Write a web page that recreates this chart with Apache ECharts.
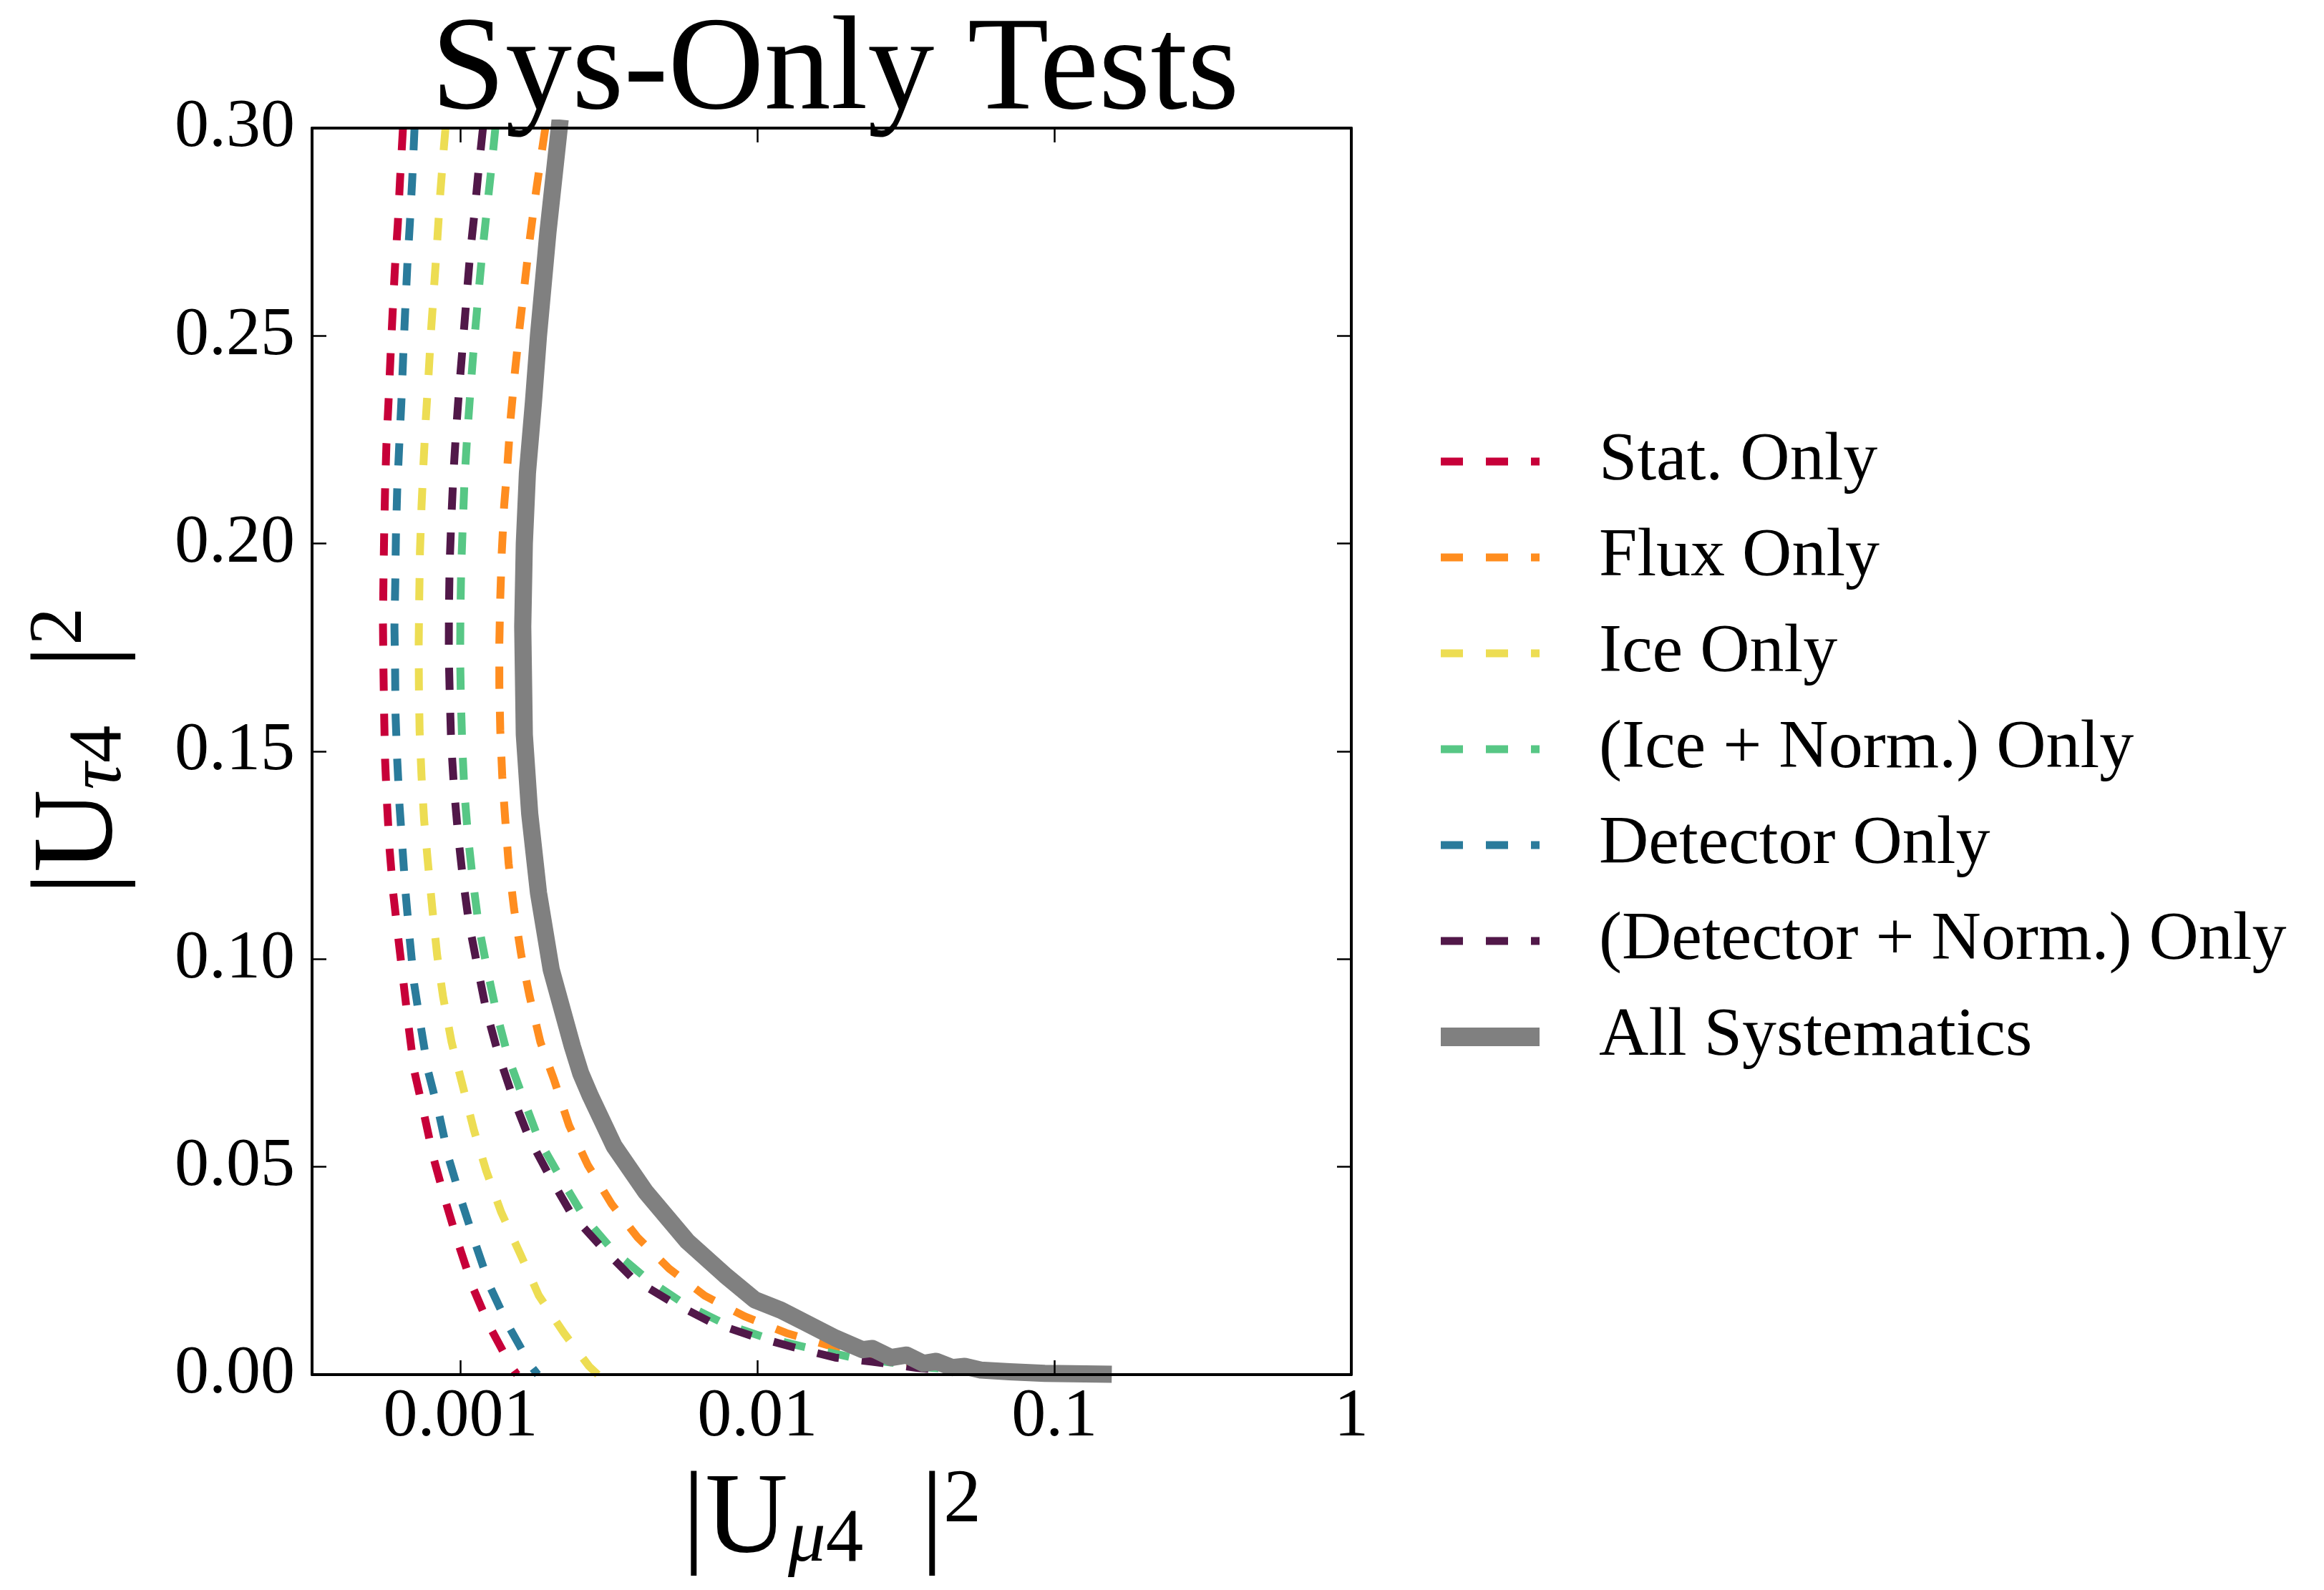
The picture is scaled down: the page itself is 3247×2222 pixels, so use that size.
<!DOCTYPE html>
<html>
<head>
<meta charset="utf-8">
<title>Sys-Only Tests</title>
<script src="https://cdn.jsdelivr.net/npm/echarts@6/dist/echarts.min.js"></script>
<style>
  html, body { margin: 0; padding: 0; background: #fff; }
  #sys-only-graph { width: 3247px; height: 2222px; }
</style>
</head>
<body>
<div id="sys-only-graph"></div>
<script>
/* Contours: [ |U_mu4|^2 , |U_tau4|^2 ] */
var stat_only = [
    [6.40e-4, 0.300], [6.26e-4, 0.288], [6.15e-4, 0.277], [6.02e-4, 0.267], [5.91e-4, 0.256],
    [5.81e-4, 0.245], [5.72e-4, 0.234], [5.63e-4, 0.224], [5.57e-4, 0.213], [5.53e-4, 0.202],
    [5.50e-4, 0.191], [5.48e-4, 0.181], [5.50e-4, 0.170], [5.53e-4, 0.159], [5.57e-4, 0.148],
    [5.65e-4, 0.138], [5.76e-4, 0.127], [5.93e-4, 0.116], [6.15e-4, 0.106], [6.41e-4, 0.095],
    [6.68e-4, 0.084], [6.99e-4, 0.073], [7.52e-4, 0.063], [8.12e-4, 0.052], [8.88e-4, 0.042],
    [9.78e-4, 0.032], [1.10e-3, 0.021], [1.245e-3, 0.012], [1.48e-3, 0.002], [1.55e-3, 0.0]
];
var flux_only = [
    [1.93e-3, 0.300], [1.875e-3, 0.294], [1.79e-3, 0.284], [1.709e-3, 0.273], [1.641e-3, 0.262],
    [1.581e-3, 0.252], [1.523e-3, 0.241], [1.474e-3, 0.230], [1.439e-3, 0.219], [1.402e-3, 0.209],
    [1.377e-3, 0.198], [1.361e-3, 0.187], [1.351e-3, 0.176], [1.351e-3, 0.166], [1.361e-3, 0.155],
    [1.382e-3, 0.144], [1.413e-3, 0.134], [1.452e-3, 0.123], [1.515e-3, 0.112], [1.601e-3, 0.101],
    [1.709e-3, 0.091], [1.858e-3, 0.080], [2.064e-3, 0.071], [2.319e-3, 0.060], [2.68e-3, 0.0505],
    [3.23e-3, 0.041], [3.95e-3, 0.033], [5.04e-3, 0.0255], [6.64e-3, 0.019], [9.06e-3, 0.014],
    [1.252e-2, 0.010], [1.72e-2, 0.0071], [2.35e-2, 0.0048], [3.09e-2, 0.0031], [4.56e-2, 0.0014],
    [8.0e-2, 0.0005], [0.13, 0.0002]
];
var ice_only = [
    [8.90e-4, 0.300], [8.78e-4, 0.295], [8.54e-4, 0.284], [8.35e-4, 0.273], [8.15e-4, 0.262],
    [7.97e-4, 0.252], [7.81e-4, 0.241], [7.64e-4, 0.230], [7.50e-4, 0.219], [7.39e-4, 0.209],
    [7.30e-4, 0.198], [7.26e-4, 0.187], [7.23e-4, 0.176], [7.24e-4, 0.166], [7.28e-4, 0.155],
    [7.39e-4, 0.144], [7.54e-4, 0.1335], [7.77e-4, 0.123], [8.04e-4, 0.112], [8.34e-4, 0.101],
    [8.73e-4, 0.091], [9.33e-4, 0.080], [1.013e-3, 0.070], [1.108e-3, 0.059], [1.221e-3, 0.049],
    [1.372e-3, 0.039], [1.59e-3, 0.029], [1.836e-3, 0.019], [2.23e-3, 0.010], [2.71e-3, 0.002],
    [2.90e-3, 0.0]
];
var ice_norm_only = [
    [1.31e-3, 0.300], [1.271e-3, 0.2905], [1.225e-3, 0.280], [1.18e-3, 0.269], [1.142e-3, 0.258],
    [1.11e-3, 0.248], [1.08e-3, 0.237], [1.053e-3, 0.226], [1.031e-3, 0.215], [1.018e-3, 0.205],
    [1.005e-3, 0.194], [9.99e-4, 0.183], [9.97e-4, 0.1725], [1.003e-3, 0.162], [1.014e-3, 0.151],
    [1.031e-3, 0.140], [1.06e-3, 0.1295], [1.10e-3, 0.119], [1.152e-3, 0.108], [1.23e-3, 0.0975],
    [1.323e-3, 0.087], [1.446e-3, 0.0765], [1.616e-3, 0.067], [1.836e-3, 0.0565], [2.146e-3, 0.048],
    [2.605e-3, 0.038], [3.25e-3, 0.030], [4.25e-3, 0.023], [5.67e-3, 0.017], [7.76e-3, 0.0122],
    [1.073e-2, 0.0088], [1.472e-2, 0.0065], [2.09e-2, 0.0041], [3.90e-2, 0.0016], [7.0e-2, 0.0004],
    [0.11, 0.0002]
];
var detector_only = [
    [7.00e-4, 0.300], [6.88e-4, 0.288], [6.75e-4, 0.277], [6.62e-4, 0.267], [6.51e-4, 0.256],
    [6.41e-4, 0.245], [6.32e-4, 0.234], [6.22e-4, 0.224], [6.12e-4, 0.213], [6.06e-4, 0.202],
    [6.03e-4, 0.191], [5.99e-4, 0.180], [6.02e-4, 0.170], [6.04e-4, 0.159], [6.12e-4, 0.148],
    [6.23e-4, 0.137], [6.37e-4, 0.127], [6.53e-4, 0.116], [6.74e-4, 0.105], [6.98e-4, 0.094],
    [7.34e-4, 0.084], [7.78e-4, 0.073], [8.45e-4, 0.063], [9.13e-4, 0.052], [1.005e-3, 0.042],
    [1.116e-3, 0.032], [1.26e-3, 0.021], [1.443e-3, 0.012], [1.73e-3, 0.002], [1.82e-3, 0.0]
];
var detector_norm_only = [
    [1.19e-3, 0.300], [1.154e-3, 0.291], [1.116e-3, 0.280], [1.078e-3, 0.270], [1.047e-3, 0.259],
    [1.018e-3, 0.248], [9.90e-4, 0.2375], [9.66e-4, 0.227], [9.45e-4, 0.216], [9.30e-4, 0.205],
    [9.19e-4, 0.195], [9.14e-4, 0.184], [9.13e-4, 0.173], [9.21e-4, 0.162], [9.30e-4, 0.152],
    [9.51e-4, 0.141], [9.81e-4, 0.130], [1.018e-3, 0.1195], [1.066e-3, 0.109], [1.138e-3, 0.0985],
    [1.218e-3, 0.088], [1.336e-3, 0.0775], [1.496e-3, 0.067], [1.70e-3, 0.057], [1.986e-3, 0.048],
    [2.366e-3, 0.0386], [2.99e-3, 0.0306], [3.82e-3, 0.023], [5.16e-3, 0.0174], [6.98e-3, 0.0126],
    [9.60e-3, 0.0093], [1.337e-2, 0.0065], [1.827e-2, 0.0041], [2.44e-2, 0.0031], [3.47e-2, 0.0016],
    [4.92e-2, 0.0007], [0.10, 0.0002]
];
var all_systematics = [
    [2.15e-3, 0.300], [1.97e-3, 0.275], [1.83e-3, 0.250], [1.76e-3, 0.234], [1.68e-3, 0.217],
    [1.64e-3, 0.200], [1.62e-3, 0.180], [1.64e-3, 0.154], [1.71e-3, 0.135], [1.83e-3, 0.116],
    [2.02e-3, 0.0975], [2.38e-3, 0.079], [2.54e-3, 0.0725], [2.74e-3, 0.067], [3.29e-3, 0.055],
    [4.20e-3, 0.044], [5.82e-3, 0.032], [7.76e-3, 0.024], [9.8e-3, 0.018], [1.20e-2, 0.0155],
    [1.45e-2, 0.0125], [1.83e-2, 0.0088], [2.26e-2, 0.0060], [2.44e-2, 0.0063], [2.82e-2, 0.0041],
    [3.18e-2, 0.0047], [3.62e-2, 0.0027], [4.00e-2, 0.0032], [4.53e-2, 0.0017], [4.99e-2, 0.0020],
    [5.65e-2, 0.0011], [7.06e-2, 0.0007], [9.28e-2, 0.0003], [0.146, 0.0001]
];

var series_names = [
    'Stat. Only', 'Flux Only', 'Ice Only', '(Ice + Norm.) Only',
    'Detector Only', '(Detector + Norm.) Only', 'All Systematics'
];
var series_colors = ['#c70039', '#ff8d1f', '#eddd53', '#57c785', '#2a7b9b', '#511849', '#808080'];

var x_tick_values = [0.001, 0.01, 0.1, 1];
var x_tick_labels = ['0.001', '0.01', '0.1', '1'];
var x_min = Math.pow(10, -3.5);
var x_max = 1;
var y_min = 0;
var y_max = 0.3;
var y_step = 0.05;

var font_family = '"Liberation Serif", "DejaVu Serif", serif';
var dash_width = 11;
var solid_width = 24;

var echarts_sys_only_graph = echarts.init(document.getElementById('sys-only-graph'));

function format_x_tick(value)
{
    for (var i = 0; i < x_tick_values.length; i++) {
        if (Math.abs(Math.log10(value) - Math.log10(x_tick_values[i])) < 1e-6) {
            return x_tick_labels[i];
        }
    }
    return '';
}

function make_dashed(name, color, data)
{
    return {
        name: name,
        type: 'line',
        data: data,
        symbol: 'none',
        smooth: false,
        animation: false,
        lineStyle: {
            color: color,
            width: dash_width,
            type: [31, 32],
            cap: 'butt',
            join: 'round'
        }
    };
}

/* Legend entries: the handles carry the same width and dash as the curves. */
var legend_data = series_names.map(function (name, i) {
    var last = (i === series_names.length - 1);
    return {
        name: name,
        lineStyle: last
            ? { width: 26, type: 'solid', color: series_colors[i], cap: 'butt' }
            : { width: dash_width, type: [31, 32], color: series_colors[i], cap: 'butt' }
    };
});

var frame_line = { show: true, onZero: false, lineStyle: { color: '#000', width: 4 } };
var inner_ticks = { show: true, inside: true, length: 20, lineStyle: { color: '#000', width: 2.5 } };

var echarts_options = {
    backgroundColor: '#fff',
    animation: false,
    title: {
        text: 'Sys-Only Tests',
        left: 1162,
        top: 4,
        textAlign: 'center',
        textStyle: {
            fontFamily: font_family,
            fontWeight: 'normal',
            fontSize: 186,
            color: '#000'
        }
    },
    legend: {
        orient: 'vertical',
        left: 1995,
        top: 590,
        itemWidth: 138,
        itemHeight: 26,
        itemGap: 34,
        selectedMode: false,
        itemStyle: { opacity: 0 },
        textStyle: {
            fontFamily: font_family,
            fontSize: 96,
            lineHeight: 100,
            color: '#000',
            padding: [0, 0, 0, 78]
        },
        data: legend_data
    },
    grid: {
        left: 436,
        top: 179,
        width: 1452,
        height: 1742,
        containLabel: false
    },
    xAxis: [
        {
            type: 'log',
            logBase: 10,
            min: x_min,
            max: x_max,
            position: 'bottom',
            z: 10,
            axisLine: frame_line,
            axisTick: inner_ticks,
            minorTick: { show: false },
            splitLine: { show: false },
            axisLabel: {
                margin: 12,
                fontFamily: font_family,
                fontSize: 96,
                color: '#000',
                formatter: format_x_tick
            },
            name: '|U{mu|μ}{sub|4}  |{sup|2}',
            nameLocation: 'middle',
            nameGap: 125,
            nameTextStyle: {
                fontFamily: font_family,
                fontSize: 160,
                lineHeight: 160,
                color: '#000',
                rich: {
                    mu: { fontFamily: font_family, fontSize: 105, lineHeight: 80, fontStyle: 'italic', verticalAlign: 'bottom', color: '#000' },
                    sub: { fontFamily: font_family, fontSize: 105, lineHeight: 80, verticalAlign: 'bottom', color: '#000' },
                    sup: { fontFamily: font_family, fontSize: 105, lineHeight: 80, verticalAlign: 'top', color: '#000' }
                }
            }
        },
        {
            type: 'log',
            logBase: 10,
            min: x_min,
            max: x_max,
            position: 'top',
            z: 10,
            axisLine: frame_line,
            axisTick: inner_ticks,
            minorTick: { show: false },
            splitLine: { show: false },
            axisLabel: { show: false }
        }
    ],
    yAxis: [
        {
            type: 'value',
            min: y_min,
            max: y_max,
            interval: y_step,
            position: 'left',
            z: 10,
            axisLine: frame_line,
            axisTick: inner_ticks,
            splitLine: { show: false },
            axisLabel: {
                margin: 24,
                fontFamily: font_family,
                fontSize: 96,
                color: '#000',
                formatter: function (value) { return value.toFixed(2); }
            },
            name: '|U{tau|τ}{sub|4}  |{sup|2}',
            nameLocation: 'middle',
            nameGap: 243,
            nameTextStyle: {
                fontFamily: font_family,
                fontSize: 160,
                lineHeight: 160,
                color: '#000',
                rich: {
                    tau: { fontFamily: font_family, fontSize: 105, lineHeight: 80, fontStyle: 'italic', verticalAlign: 'bottom', color: '#000' },
                    sub: { fontFamily: font_family, fontSize: 105, lineHeight: 80, verticalAlign: 'bottom', color: '#000' },
                    sup: { fontFamily: font_family, fontSize: 105, lineHeight: 80, verticalAlign: 'top', color: '#000' }
                }
            }
        },
        {
            type: 'value',
            min: y_min,
            max: y_max,
            interval: y_step,
            position: 'right',
            z: 10,
            axisLine: frame_line,
            axisTick: inner_ticks,
            splitLine: { show: false },
            axisLabel: { show: false }
        }
    ],
    series: [
        make_dashed(series_names[0], series_colors[0], stat_only),
        make_dashed(series_names[1], series_colors[1], flux_only),
        make_dashed(series_names[2], series_colors[2], ice_only),
        make_dashed(series_names[3], series_colors[3], ice_norm_only),
        make_dashed(series_names[4], series_colors[4], detector_only),
        make_dashed(series_names[5], series_colors[5], detector_norm_only),
        {
            name: series_names[6],
            type: 'line',
            data: all_systematics,
            symbol: 'none',
            smooth: false,
            animation: false,
            lineStyle: {
                color: series_colors[6],
                width: solid_width,
                cap: 'square',
                join: 'round'
            }
        }
    ]
};

echarts_sys_only_graph.setOption(echarts_options);
</script>
</body>
</html>
